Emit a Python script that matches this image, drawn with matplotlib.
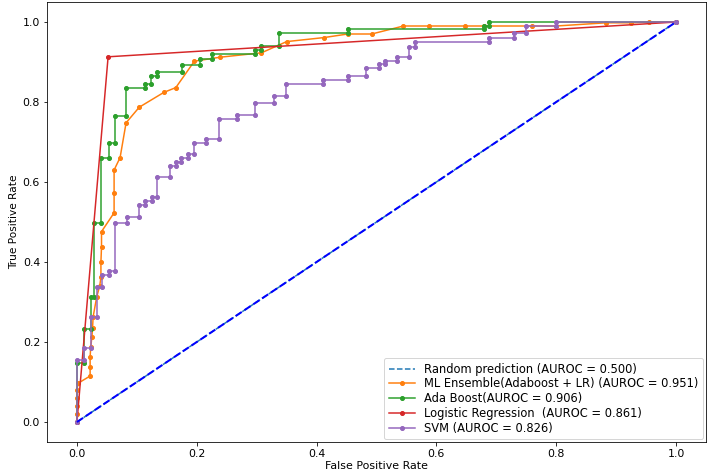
import matplotlib
matplotlib.use("Agg")
import matplotlib.pyplot as plt

# ROC points
diag = [0.0, 1.0]

ens_fpr = [0.0, 0.0, 0.0, 0.0, 0.0, 0.002, 0.022, 0.022, 0.022, 0.023, 0.025, 0.026, 0.027,
           0.033, 0.038, 0.040, 0.040, 0.041, 0.041, 0.062, 0.062, 0.062, 0.072, 0.082, 0.104,
           0.145, 0.165, 0.196, 0.239, 0.308, 0.350, 0.412, 0.452, 0.492, 0.545, 0.587, 0.647,
           0.680, 0.760, 0.800, 0.883, 0.924, 0.955, 1.0]
ens_tpr = [0.0, 0.02, 0.04, 0.06, 0.08, 0.097, 0.115, 0.138, 0.163, 0.188, 0.213, 0.234, 0.263,
           0.313, 0.340, 0.362, 0.400, 0.438, 0.476, 0.523, 0.572, 0.630, 0.661, 0.748, 0.787,
           0.824, 0.836, 0.902, 0.912, 0.923, 0.951, 0.961, 0.970, 0.970, 0.990, 0.990, 0.990,
           0.990, 0.990, 0.990, 0.998, 0.998, 1.0, 1.0]

ada_fpr = [0.0, 0.0, 0.012, 0.012, 0.023, 0.023, 0.029, 0.029, 0.040, 0.040, 0.054, 0.054,
           0.063, 0.063, 0.082, 0.082, 0.114, 0.114, 0.123, 0.123, 0.133, 0.133, 0.175, 0.175,
           0.206, 0.206, 0.226, 0.226, 0.298, 0.298, 0.307, 0.307, 0.338, 0.338, 0.452, 0.452,
           0.680, 0.680, 0.688, 0.688, 1.0]
ada_tpr = [0.0, 0.147, 0.147, 0.232, 0.232, 0.312, 0.312, 0.497, 0.497, 0.661, 0.661, 0.698,
           0.698, 0.766, 0.766, 0.834, 0.834, 0.844, 0.844, 0.865, 0.865, 0.874, 0.874, 0.892,
           0.892, 0.907, 0.907, 0.919, 0.919, 0.931, 0.931, 0.941, 0.941, 0.972, 0.972, 0.982,
           0.982, 0.991, 0.991, 1.0, 1.0]

lr_fpr = [0.0, 0.052, 1.0]
lr_tpr = [0.0, 0.913, 1.0]

svm_fpr = [0.0, 0.0, 0.012, 0.012, 0.023, 0.023, 0.033, 0.033, 0.041, 0.041, 0.054, 0.054,
           0.064, 0.064, 0.083, 0.083, 0.104, 0.104, 0.114, 0.114, 0.125, 0.125, 0.134, 0.134,
           0.155, 0.155, 0.165, 0.165, 0.174, 0.174, 0.186, 0.186, 0.196, 0.196, 0.216, 0.216,
           0.237, 0.237, 0.267, 0.267, 0.298, 0.298, 0.329, 0.329, 0.349, 0.349, 0.410, 0.410,
           0.452, 0.452, 0.483, 0.483, 0.504, 0.504, 0.514, 0.514, 0.534, 0.534, 0.555, 0.555,
           0.565, 0.565, 0.688, 0.688, 0.730, 0.730, 0.749, 0.749, 0.800, 0.800, 1.0]
svm_tpr = [0.0, 0.155, 0.155, 0.184, 0.184, 0.263, 0.263, 0.338, 0.338, 0.368, 0.368, 0.378,
           0.378, 0.497, 0.497, 0.513, 0.513, 0.543, 0.543, 0.553, 0.553, 0.563, 0.563, 0.612,
           0.612, 0.641, 0.641, 0.649, 0.649, 0.659, 0.659, 0.670, 0.670, 0.698, 0.698, 0.707,
           0.707, 0.757, 0.757, 0.768, 0.768, 0.797, 0.797, 0.816, 0.816, 0.846, 0.846, 0.856,
           0.856, 0.865, 0.865, 0.884, 0.884, 0.894, 0.894, 0.903, 0.903, 0.913, 0.913, 0.938,
           0.938, 0.950, 0.950, 0.961, 0.961, 0.972, 0.972, 0.990, 0.990, 1.0, 1.0]

plt.rcParams['font.size'] = 11

fig = plt.figure(figsize=(708 / 72, 474 / 72), dpi=72)
ax = fig.add_axes([47 / 708, 32 / 474, 659 / 708, 440 / 474])

ms = 8
ax.plot(diag, diag, linestyle='--', label='Random prediction (AUROC = 0.500)')
ax.plot(ens_fpr, ens_tpr, marker='.', ms=ms, color='C1', label='ML Ensemble(Adaboost + LR) (AUROC = 0.951)')
ax.plot(ada_fpr, ada_tpr, marker='.', ms=ms, color='C2', label='Ada Boost(AUROC = 0.906)')
ax.plot(lr_fpr, lr_tpr, marker='.', ms=ms, color='C3', label='Logistic Regression  (AUROC = 0.861)')
ax.plot(svm_fpr, svm_tpr, marker='.', ms=ms, color='C4', label='SVM (AUROC = 0.826)')
ax.plot(diag, diag, 'b--', lw=2)

ax.set_xlim(-0.05, 1.05)
ax.set_ylim(-0.05, 1.05)
ax.set_xlabel('False Positive Rate', fontsize=11, labelpad=2)
ax.set_ylabel('True Positive Rate', fontsize=10.5)
ax.legend(loc='lower right', fontsize=11.5, labelspacing=0.15, handlelength=2.3,
          borderaxespad=0.25)

fig.savefig('out.png', dpi=72)
